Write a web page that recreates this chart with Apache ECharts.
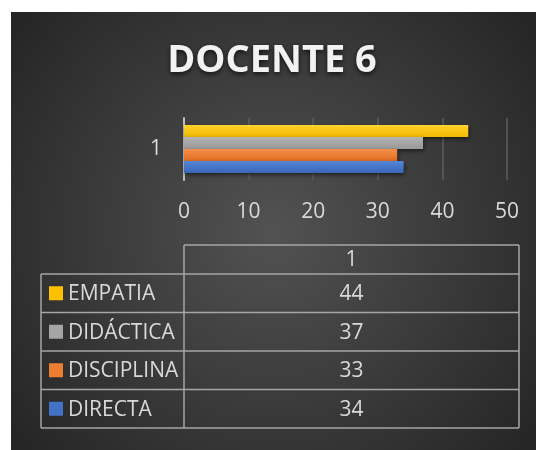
<!DOCTYPE html>
<html>
<head>
<meta charset="utf-8">
<script src="https://cdn.jsdelivr.net/npm/echarts@6/dist/echarts.min.js"></script>
<style>
html,body{margin:0;padding:0;background:#fff;}
#c{width:536px;height:450px;}
</style>
</head>
<body>
<div id="c"></div>
<script>
const titleText = 'DOCENTE 6';
const categories = ['1'];
// listed top-down, as in the chart and the table
const seriesNames = ['EMPATIA', 'DIDÁCTICA', 'DISCIPLINA', 'DIRECTA'];
const empatia = [44];
const didactica = [37];
const disciplina = [33];
const directa = [34];
const seriesValues = [empatia, didactica, disciplina, directa];
const xMin = 0, xMax = 50, xInterval = 10;

const colorTop = ['#ffd22e', '#b3b3b3', '#f58f4c', '#5585d6'];
const colorBottom = ['#f2b900', '#999999', '#e06d20', '#3a66b8'];
const keyColors = ['#ffc000', '#a5a5a5', '#ed7d31', '#4472c4'];

const FONT = '"Open Sans", "Noto Sans", sans-serif';
const chart = echarts.init(document.getElementById('c'), null, {renderer: 'canvas'});

const tLeft = 41, tMid = 184, tRight = 519;
const headTop = 245, headBottom = 274, rowH = 38.5;
const lineStyle = {stroke: '#a6a6a6', lineWidth: 1.5};
const txtColor = '#d9d9d9';
const FS = 21;

const graphics = [];
graphics.push({
  type: 'rect', z: -10, silent: true,
  shape: {x: 11, y: 12, width: 525, height: 438},
  style: {fill: {type: 'radial', x: 0.5, y: 0.5, r: 0.75,
    colorStops: [{offset: 0, color: '#525252'}, {offset: 1, color: '#262626'}]}}
});
graphics.push({
  type: 'text', z: 10,
  style: {x: 272, y: 61, text: titleText, align: 'center', verticalAlign: 'middle',
    font: 'bold 38px ' + FONT, fill: '#f2f2f2',
    textShadowColor: 'rgba(0,0,0,0.7)', textShadowBlur: 5, textShadowOffsetY: 2}
});
const nRows = seriesNames.length;
const tableBottom = headBottom + rowH * nRows;
graphics.push({type: 'line', shape: {x1: tMid, y1: headTop, x2: tRight, y2: headTop}, style: lineStyle});
graphics.push({type: 'line', shape: {x1: tMid, y1: headTop, x2: tMid, y2: tableBottom}, style: lineStyle});
graphics.push({type: 'line', shape: {x1: tRight, y1: headTop, x2: tRight, y2: tableBottom}, style: lineStyle});
graphics.push({type: 'line', shape: {x1: tLeft, y1: headBottom, x2: tLeft, y2: tableBottom}, style: lineStyle});
graphics.push({
  type: 'text',
  style: {x: (tMid + tRight) / 2, y: (headTop + headBottom) / 2 + 1, text: categories[0], align: 'center', verticalAlign: 'middle',
    font: FS + 'px ' + FONT, fill: txtColor}
});
for (let r = 0; r <= nRows; r++) {
  const y = headBottom + rowH * r;
  graphics.push({type: 'line', shape: {x1: tLeft, y1: y, x2: tRight, y2: y}, style: lineStyle});
}
for (let r = 0; r < nRows; r++) {
  const cy = headBottom + rowH * r + rowH / 2;
  graphics.push({type: 'rect', shape: {x: 49, y: cy - 7, width: 14, height: 14}, style: {fill: keyColors[r]}});
  graphics.push({type: 'text', style: {x: 68, y: cy + 1, text: seriesNames[r], align: 'left', verticalAlign: 'middle',
    font: FS + 'px ' + FONT, fill: txtColor}});
  graphics.push({type: 'text', style: {x: (tMid + tRight) / 2, y: cy + 1, text: String(seriesValues[r][0]), align: 'center', verticalAlign: 'middle',
    font: FS + 'px ' + FONT, fill: txtColor}});
}

const series = seriesNames.map((name, i) => ({
  name: name,
  type: 'bar',
  data: seriesValues[i],
  barWidth: 12,
  barGap: '0%',
  itemStyle: {
    color: {type: 'linear', x: 0, y: 0, x2: 0, y2: 1,
      colorStops: [{offset: 0, color: colorTop[i]}, {offset: 1, color: colorBottom[i]}]},
    shadowColor: 'rgba(0,0,0,0.55)', shadowBlur: 4, shadowOffsetY: 2, shadowOffsetX: 1
  },
  silent: true
}));

chart.setOption({
  animation: false,
  backgroundColor: '#ffffff',
  graphic: graphics,
  grid: {left: 184, right: 29, top: 118, bottom: 270, containLabel: false},
  xAxis: {
    type: 'value', min: xMin, max: xMax, interval: xInterval,
    axisLine: {show: false}, axisTick: {show: false},
    splitLine: {show: true, lineStyle: {color: '#5e5e5e', width: 1.5}},
    axisLabel: {color: txtColor, fontSize: FS, fontFamily: FONT, margin: 22}
  },
  yAxis: {
    type: 'category', data: categories,
    axisLine: {show: true, lineStyle: {color: '#bfbfbf', width: 2}},
    axisTick: {show: false},
    axisLabel: {color: txtColor, fontSize: FS, fontFamily: FONT, margin: 22}
  },
  series: series
});
</script>
</body>
</html>
